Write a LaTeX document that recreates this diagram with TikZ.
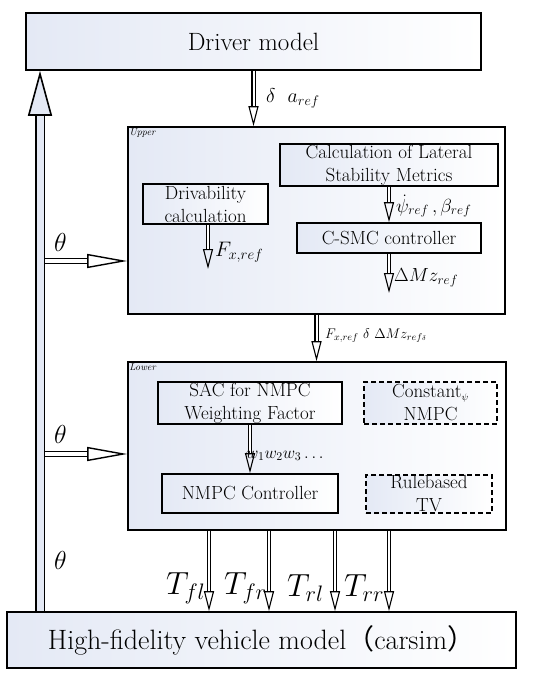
\RequirePackage{fix-cm}
\documentclass[tikz,border=0pt]{standalone}
\usepackage{fontspec}
\newfontfamily\cjk{Noto Sans CJK SC}
\usetikzlibrary{arrows.meta}
\definecolor{boxfill}{RGB}{228,233,245}

\begin{document}
\begin{tikzpicture}[x=1pt,y=-1pt,
  blk/.style={draw=black,line width=1.6pt,left color=boxfill,right color=white,inner sep=0,align=center,font=\fontsize{19}{23}\selectfont},
  dblk/.style={blk,dash pattern=on 5pt off 3pt},
  tag/.style={anchor=north west,inner sep=2pt,font=\fontsize{10}{10}\selectfont\itshape},
  lbl/.style={anchor=west,inner sep=0},
  dbl/.style={double,double distance=2pt,line width=1.1pt,-{Triangle[open,length=20pt,width=10pt,line width=1.1pt]}},
  mid/.style={double,double distance=3.5pt,line width=1.4pt,-{Triangle[open,length=40pt,width=14pt,line width=1.4pt]}},
  fat/.style={double=boxfill,double distance=7pt,line width=1.6pt,-{Triangle[open,fill=boxfill,length=45pt,width=24pt,line width=1.6pt]}}]
\useasboundingbox (0,0) rectangle (550,682);
% outer blocks
\node[blk,minimum width=455pt,minimum height=57pt,font=\fontsize{25}{28}\selectfont] (driver) at (253.5,41.5) {Driver model};
\node[blk,minimum width=509pt,minimum height=56pt,font=\fontsize{28}{30}\selectfont] (veh) at (261.5,640) {High-fidelity vehicle model{\cjk （}carsim{\cjk ）}};
% upper layer
\node[blk,minimum width=377pt,minimum height=187pt] (upper) at (316.5,220.5) {};
\node[tag] (uptag) at (upper.north west) {Upper};
\node[blk,minimum width=218pt,minimum height=42pt] (lat) at (389,165) {Calculation of Lateral\\Stability Metrics};
\node[blk,minimum width=125pt,minimum height=40pt] (drv) at (205.5,204) {Drivability\\calculation};
\node[blk,minimum width=184pt,minimum height=30pt] (csmc) at (389,238) {C-SMC controller};
% lower layer
\node[blk,minimum width=378pt,minimum height=168pt] (lower) at (317,446) {};
\node[tag] (lotag) at (lower.north west) {Lower};
\node[blk,minimum width=184pt,minimum height=42pt] (sac) at (250,403) {SAC for NMPC\\Weighting Factor};
\node[dblk,minimum width=133pt,minimum height=42pt] (const) at (430.5,403) {Constant$_{\scriptscriptstyle\psi}$\\NMPC};
\node[blk,minimum width=176pt,minimum height=39pt] (nmpc) at (250,493.5) {NMPC Controller};
\node[dblk,minimum width=126pt,minimum height=38pt] (rule) at (429,494) {Rulebased\\TV};
% signal arrows
\coordinate (dfx) at (208,269);
\coordinate (dmz) at (389,293);
\draw[dbl] (driver.south) -- (driver.south |- upper.north);
\draw[dbl] (lat) -- (csmc);
\draw[dbl] (csmc) -- (dmz);
\draw[dbl] (drv.south -| dfx) -- (dfx);
\draw[dbl] (upper.south) -- (upper.south |- lower.north);
\draw[dbl] (sac) -- (nmpc);
\foreach \xx/\nm in {209/fl,269/fr,335/rl,389/rr}{
  \coordinate (t\nm) at (lower.south -| \xx,0);
  \draw[dbl] (t\nm) -- (t\nm |- veh.north);
}
% feedback of theta
\coordinate (fb) at (veh.north -| 40,0);
\coordinate (th1) at (45,261);
\coordinate (th2) at (45,454);
\draw[fat] (fb) -- (fb |- driver.south);
\draw[mid] (th1) -- (th1 -| upper.west);
\draw[mid] (th2) -- (th2 -| lower.west);
% labels
\node[lbl,font=\fontsize{20}{20}\selectfont] (la) at (266,98) {$\delta\ \ a_{ref}$};
\node[lbl,font=\fontsize{19}{19}\selectfont] (lb) at (396,206) {$\dot\psi_{ref}\,,\beta_{ref}$};
\node[lbl,font=\fontsize{19}{19}\selectfont] (lc) at (394,278) {$\Delta Mz_{ref}$};
\node[lbl,font=\fontsize{21}{21}\selectfont] (ld) at (215,252) {$F_{x,ref}$};
\node[lbl,font=\fontsize{14}{14}\selectfont] (le) at (325,336) {$F_{x,ref}\ \delta\ \Delta Mz_{ref{\scriptscriptstyle\delta}}$};
\node[lbl,font=\fontsize{17}{17}\selectfont] (lf) at (246,456) {$w_1w_2w_3\ldots$};
\foreach \yy [count=\i] in {242,434,560}
  \node[lbl,font=\fontsize{26}{26}\selectfont] (th\i l) at (54,\yy) {$\theta$};
\foreach \xx/\nm/\tx in {166/fl/{fl},224/fr/{fr},287/rl/{rl},344/rr/{rr}}
  \node[lbl,font=\fontsize{32}{32}\selectfont] (l\nm) at (\xx,588) {$T_{\tx}$};
\end{tikzpicture}
\end{document}
